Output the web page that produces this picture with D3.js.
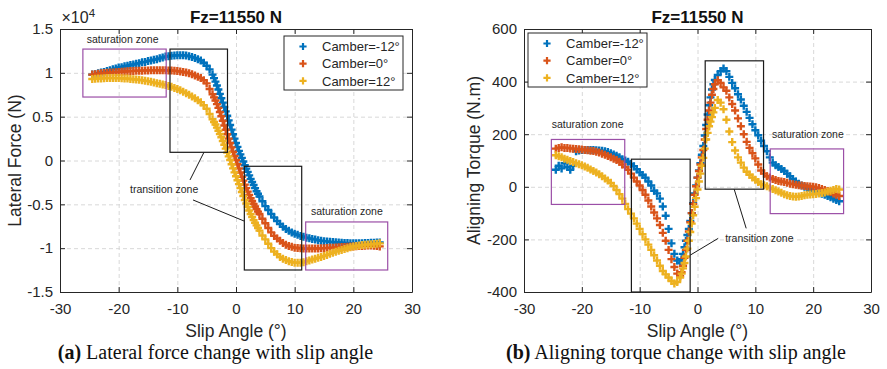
<!DOCTYPE html>
<html><head><meta charset="utf-8">
<script src="https://cdn.jsdelivr.net/npm/d3@7"></script>
<style>body{margin:0;background:#fff}svg{display:block}</style>
</head><body>
<script>
// ---------- DATA ----------
const seriesNames = ['Camber=-12°', 'Camber=0°', 'Camber=12°'];
const xTickValues = [-30, -20, -10, 0, 10, 20, 30];
const xTickLabels = ['-30', '-20', '-10', '0', '10', '20', '30'];

// (a) Lateral force (N) vs slip angle (deg)
const lfSlip = [
 -24.5,-24,-23.5,-23,-22.5,-22,-21.5,-21,-20.5,-20,
 -19.5,-19,-18.5,-18,-17.5,-17,-16.5,-16,-15.5,-15,
 -14.5,-14,-13.5,-13,-12.5,-12,-11.5,-11,-10.5,-10,
 -9.5,-9,-8.5,-8,-7.5,-7,-6.5,-6,-5.5,-5,
 -4.5,-4,-3.75,-3.5,-3.25,-3,-2.75,-2.5,-2.25,-2,-1.75,-1.5,-1.25,-1,-0.75,-0.5,-0.25,0,
 0.25,0.5,0.75,1,1.25,1.5,1.75,2,2.25,2.5,2.75,3,3.25,3.5,3.75,4,4.5,5,
 5.5,6,6.5,7,7.5,8,8.5,9,9.5,10,
 10.5,11,11.5,12,12.5,13,13.5,14,14.5,15,
 15.5,16,16.5,17,17.5,18,18.5,19,19.5,20,
 20.5,21,21.5,22,22.5,23,23.5,24,24.5];
const lfCamberNeg12 = [
 9800,9850,9950,10050,10100,10200,10300,10400,10500,10600,
 10650,10750,10800,10900,10950,11050,11100,11200,11250,11350,
 11400,11500,11550,11650,11750,11850,11900,11950,11980,12000,
 12000,12000,11970,11900,11800,11700,11550,11400,11150,10800,
 10400,9800,9400,9000,8550,8100,7600,7100,6600,6100,5600,5100,4580,4050,3520,3000,2500,2000,
 1550,1100,700,300,-120,-550,-930,-1300,-1700,-2100,-2450,-2800,-3150,-3500,-3800,-4100,-4650,-5200,
 -5650,-6100,-6500,-6900,-7250,-7550,-7800,-8000,-8200,-8350,
 -8480,-8600,-8700,-8800,-8880,-8950,-9000,-9100,-9150,-9200,
 -9230,-9280,-9300,-9330,-9350,-9370,-9400,-9420,-9440,-9450,
 -9450,-9440,-9430,-9400,-9400,-9380,-9370,-9350,-9350];
const lfCamber0 = [
 9800,9850,9900,9950,9980,10000,10030,10050,10080,10100,
 10120,10150,10180,10200,10220,10230,10240,10250,10270,10280,
 10290,10300,10300,10300,10300,10300,10280,10270,10250,10200,
 10150,10100,10030,9950,9850,9700,9550,9400,9150,8800,
 8150,7550,7200,6850,6430,6000,5530,5050,4530,4000,3500,3000,2500,2000,1500,1000,520,50,
 -420,-900,-1370,-1850,-2300,-2750,-3150,-3550,-3930,-4300,-4620,-4950,-5250,-5550,-5830,-6100,-6650,-7150,
 -7700,-8200,-8600,-8900,-9150,-9400,-9600,-9750,-9850,-9950,
 -9980,-10020,-10050,-10050,-10050,-10050,-10040,-10030,-10020,-10000,
 -9980,-9960,-9940,-9920,-9900,-9880,-9860,-9840,-9820,-9800,
 -9780,-9760,-9740,-9720,-9700,-9700,-9720,-9750,-9800];
const lfCamber12 = [
 9300,9320,9340,9360,9380,9400,9400,9400,9400,9400,
 9380,9360,9340,9300,9270,9240,9200,9150,9100,9050,
 8970,8900,8820,8750,8680,8600,8500,8400,8280,8150,
 8000,7850,7680,7500,7300,7100,6880,6650,6300,5900,
 5300,4700,4400,4100,3750,3400,3030,2650,2230,1800,1350,900,470,50,-420,-900,-1350,-1800,
 -2250,-2700,-3150,-3600,-4050,-4500,-4900,-5300,-5700,-6100,-6450,-6800,-7100,-7400,-7700,-8000,-8550,-9000,
 -9500,-10000,-10400,-10700,-11000,-11200,-11350,-11500,-11580,-11650,
 -11650,-11650,-11600,-11500,-11400,-11300,-11200,-11100,-11000,-10900,
 -10780,-10650,-10520,-10400,-10300,-10200,-10100,-10000,-9900,-9800,
 -9750,-9700,-9650,-9600,-9580,-9550,-9530,-9500,-9450];
const lfTickValues = [-15000, -10000, -5000, 0, 5000, 10000, 15000];
const lfTickLabels = ['-1.5', '-1', '-0.5', '0', '0.5', '1', '1.5'];

// (b) Aligning torque (N.m) vs slip angle (deg)
const atSlip = [
 -24.5,-24,-23.5,-23,-22.5,-22,-21.5,-21,-20.5,-20,
 -19.5,-19,-18.5,-18,-17.5,-17,-16.5,-16,-15.5,-15,
 -14.5,-14,-13.5,-13,-12.5,-12,-11.5,-11,-10.5,-10,
 -9.5,-9,-8.5,-8,-7.5,-7,-6.5,-6,-5.5,-5,
 -4.5,-4,-3.5,-3,-2.75,-2.5,-2.25,-2,-1.75,-1.5,-1.25,-1,-0.75,-0.5,-0.25,0,
 0.25,0.5,0.75,1,1.25,1.5,1.75,2,2.25,2.5,2.75,3,3.5,4,4.5,5,
 5.5,6,6.5,7,7.5,8,8.5,9,9.5,10,
 10.5,11,11.5,12,12.5,13,13.5,14,14.5,15,
 15.5,16,16.5,17,17.5,18,18.5,19,19.5,20,
 20.5,21,21.5,22,22.5,23,23.5,24,24.5];
const atCamberNeg12 = [
 65,80,70,90,75,65,80,135,138,140,
 140,140,140,140,139,138,137,135,132,128,
 123,118,112,105,100,95,87,78,67,55,
 45,35,20,5,-15,-25,-45,-75,-110,-160,
 -215,-255,-280,-290,-275,-255,-230,-205,-183,-160,-130,-100,-62,-25,5,35,
 62,90,122,155,195,235,275,310,340,370,390,406,425,440,450,440,
 418,395,375,352,332,308,285,262,238,215,
 196,175,155,135,112,92,82,75,68,60,
 50,40,30,20,12,5,0,-5,-10,-15,
 -18,-22,-26,-30,-35,-40,-45,-50,-55];
const atCamber0 = [
 145,148,150,148,148,146,145,144,143,142,
 140,139,137,136,133,130,126,122,117,112,
 107,102,95,85,75,65,50,35,20,5,
 -12,-30,-52,-75,-98,-120,-145,-175,-205,-240,
 -275,-305,-330,-340,-325,-300,-270,-240,-205,-170,-135,-100,-65,-30,2,35,
 60,85,112,140,180,220,255,290,320,350,372,390,405,395,378,365,
 340,315,290,260,230,200,171,148,128,108,
 85,62,50,40,35,30,26,22,20,18,
 15,12,10,8,6,5,3,2,1,0,
 -2,-5,-8,-12,-16,-20,-25,-30,-35];
const atCamber12 = [
 120,116,112,107,103,98,94,90,86,82,
 77,72,66,60,54,48,40,32,24,15,
 3,-12,-28,-45,-65,-85,-102,-120,-140,-160,
 -180,-200,-220,-240,-260,-280,-300,-320,-333,-345,
 -358,-368,-362,-345,-330,-310,-290,-265,-235,-205,-172,-140,-108,-76,-43,-10,
 20,50,80,110,145,180,205,230,248,265,283,300,330,320,295,255,
 210,170,138,112,92,73,57,46,35,27,
 18,10,6,2,-3,-8,-13,-18,-23,-28,
 -32,-35,-37,-38,-37,-35,-32,-30,-29,-28,
 -27,-25,-24,-22,-18,-15,-12,-8,-10];
const atTickValues = [-400, -200, 0, 200, 400, 600];
const atTickLabels = ['-400', '-200', '0', '200', '400', '600'];

// annotation zones (data units): [x0, x1, y0, y1, kind]
const lfZones = [[-26.1,-11.9,7240,12710,'sat'],[-11.25,-1.45,935,12710,'trans'],[1.42,11.2,-12490,-660,'trans'],[11.88,25.86,-12490,-7010,'sat']];
const lfZoneText = [[-25.45,13400,'saturation zone'],[12.78,-6210,'saturation zone'],[-18.07,-3700,'transition zone']];
const lfLeaders = [[-5.46,935,-7.84,-2220],[-7.33,-4500,1.36,-6900]];
const atZones = [[-25.27,-12.58,-67,180,'sat'],[-11.43,-1.27,-400,105,'trans'],[1.33,11.42,-9,479,'trans'],[12.57,25.26,-102,144,'sat']];
const atZoneText = [[-25.2,222,'saturation zone'],[12.87,184,'saturation zone'],[4.79,-210,'transition zone']];
const atLeaders = [[6.34,-9,8.42,-158],[3.58,-196,-1.27,-260]];

// ---------- DRAW ----------
const W = 887, H = 369;
const SANS = "'Liberation Sans', Arial, Helvetica, sans-serif";
const SERIF = "'Liberation Serif', 'Times New Roman', serif";
const INK = '#262626';
const colors = ['#0072BD', '#D95319', '#EDB120'];
const zoneColor = {sat: '#9B4FA7', trans: '#1a1a1a'};
const MR = 4, MW = 2.4;

const svg = d3.select('body').append('svg').attr('width', W).attr('height', H);

const panels = [
  {left: 60, right: 412, top: 29, bottom: 292, slip: lfSlip,
   series: [lfCamberNeg12, lfCamber0, lfCamber12], yDomain: [-15000, 15000],
   yTicks: lfTickValues, yLabels: lfTickLabels, ylabel: 'Lateral Force (N)', ylabelX: 21,
   legendX: 284, legendY: 36, zones: lfZones, zoneText: lfZoneText, leaders: lfLeaders,
   capLetter: '(a)', capText: ' Lateral force change with slip angle', capX: 215.5, exponent: true},
  {left: 524, right: 871, top: 29, bottom: 292, slip: atSlip,
   series: [atCamberNeg12, atCamber0, atCamber12], yDomain: [-400, 600],
   yTicks: atTickValues, yLabels: atTickLabels, ylabel: 'Aligning Torque (N.m)', ylabelX: 480,
   legendX: 528, legendY: 33, zones: atZones, zoneText: atZoneText, leaders: atLeaders,
   capLetter: '(b)', capText: ' Aligning torque change with slip angle', capX: 676, exponent: false}
];

const plus = r => `M${-r},0H${r}M0,${-r}V${r}`;

panels.forEach(p => {
  const x = d3.scaleLinear().domain([-30, 30]).range([p.left, p.right]);
  const y = d3.scaleLinear().domain(p.yDomain).range([p.bottom, p.top]);
  const g = svg.append('g');
  const ph = p.bottom - p.top, pw = p.right - p.left;

  // grid
  const gridX = g.append('g').attr('transform', `translate(0,${p.bottom})`)
    .call(d3.axisBottom(x).tickValues(xTickValues).tickSize(-ph).tickFormat(''));
  const gridY = g.append('g').attr('transform', `translate(${p.left},0)`)
    .call(d3.axisLeft(y).tickValues(p.yTicks).tickSize(-pw).tickFormat(''));
  [gridX, gridY].forEach(a => {
    a.select('.domain').remove();
    a.selectAll('line').attr('stroke', '#d4d4d4').attr('stroke-width', 0.9).attr('stroke-dasharray', '4,3');
  });

  // data
  p.series.forEach((vals, si) => {
    g.append('g').selectAll('path')
      .data(p.slip.map((s, i) => [s, vals[i]]).filter(d => d[1] !== undefined))
      .join('path')
      .attr('transform', d => `translate(${x(d[0])},${y(d[1])})`)
      .attr('d', plus(MR))
      .attr('fill', 'none')
      .attr('stroke', colors[si])
      .attr('stroke-width', MW);
  });

  // zones
  p.zones.forEach(z => {
    g.append('rect')
      .attr('x', x(z[0])).attr('y', y(z[3]))
      .attr('width', x(z[1]) - x(z[0])).attr('height', y(z[2]) - y(z[3]))
      .attr('fill', 'none').attr('stroke', zoneColor[z[4]]).attr('stroke-width', 1.2);
  });
  p.leaders.forEach(l => {
    g.append('line').attr('x1', x(l[0])).attr('y1', y(l[1])).attr('x2', x(l[2])).attr('y2', y(l[3]))
      .attr('stroke', '#1a1a1a').attr('stroke-width', 1);
  });
  p.zoneText.forEach(t => {
    g.append('text').attr('x', x(t[0])).attr('y', y(t[1])).text(t[2])
      .attr('font-family', SANS).attr('font-size', 10.5).attr('fill', '#262626');
  });

  // axes (ticks inward on all four sides)
  const axB = g.append('g').attr('transform', `translate(0,${p.bottom})`)
    .call(d3.axisBottom(x).tickValues(xTickValues).tickSizeInner(-5).tickSizeOuter(0).tickPadding(11)
      .tickFormat((d, i) => xTickLabels[i]));
  const axT = g.append('g').attr('transform', `translate(0,${p.top})`)
    .call(d3.axisTop(x).tickValues(xTickValues).tickSizeInner(-5).tickSizeOuter(0).tickFormat(''));
  const axL = g.append('g').attr('transform', `translate(${p.left},0)`)
    .call(d3.axisLeft(y).tickValues(p.yTicks).tickSizeInner(-5).tickSizeOuter(0).tickPadding(7)
      .tickFormat((d, i) => p.yLabels[i]));
  const axR = g.append('g').attr('transform', `translate(${p.right},0)`)
    .call(d3.axisRight(y).tickValues(p.yTicks).tickSizeInner(-5).tickSizeOuter(0).tickFormat(''));
  [axB, axT, axL, axR].forEach(a => {
    a.select('.domain').attr('stroke', INK).attr('stroke-width', 1);
    a.selectAll('line').attr('stroke', INK).attr('stroke-width', 1);
    a.selectAll('text').attr('font-family', SANS).attr('font-size', 15).attr('fill', INK);
  });

  // legend
  const lg = g.append('g').attr('transform', `translate(${p.legendX},${p.legendY})`);
  lg.append('rect').attr('width', 119).attr('height', 54).attr('fill', '#fff')
    .attr('stroke', INK).attr('stroke-width', 1);
  seriesNames.forEach((n, i) => {
    const yy = 10.5 + i * 17.2;
    lg.append('path').attr('transform', `translate(19,${yy})`).attr('d', plus(3.6))
      .attr('stroke', colors[i]).attr('stroke-width', 2.2).attr('fill', 'none');
    lg.append('text').attr('x', 38).attr('y', yy + 4.6).text(n)
      .attr('font-family', SANS).attr('font-size', 13).attr('fill', INK);
  });

  // titles & labels
  const cx = (p.left + p.right) / 2;
  g.append('text').attr('x', cx).attr('y', 22.5).attr('text-anchor', 'middle')
    .attr('font-family', SANS).attr('font-size', 17).attr('font-weight', 'bold').attr('fill', '#111')
    .text('Fz=11550 N');
  g.append('text').attr('x', cx).attr('y', 337).attr('text-anchor', 'middle')
    .attr('font-family', SANS).attr('font-size', 17.5).attr('fill', INK).text('Slip Angle (°)');
  g.append('text').attr('transform', `translate(${p.ylabelX},${(p.top + p.bottom) / 2}) rotate(-90)`)
    .attr('text-anchor', 'middle').attr('font-family', SANS).attr('font-size', 17.5).attr('fill', INK)
    .text(p.ylabel);
  if (p.exponent) {
    const ex = g.append('text').attr('x', p.left + 1.5).attr('y', 23.3)
      .attr('font-family', SANS).attr('font-size', 16).attr('fill', INK);
    ex.append('tspan').text('×10');
    ex.append('tspan').attr('font-size', 11.5).attr('dy', -6.5).text('4');
  }
  const cap = g.append('text').attr('x', p.capX).attr('y', 359).attr('text-anchor', 'middle')
    .attr('font-family', SERIF).attr('font-size', 20).attr('fill', '#111');
  cap.append('tspan').attr('font-weight', 'bold').text(p.capLetter);
  cap.append('tspan').text(p.capText);
});
</script>
</body></html>
